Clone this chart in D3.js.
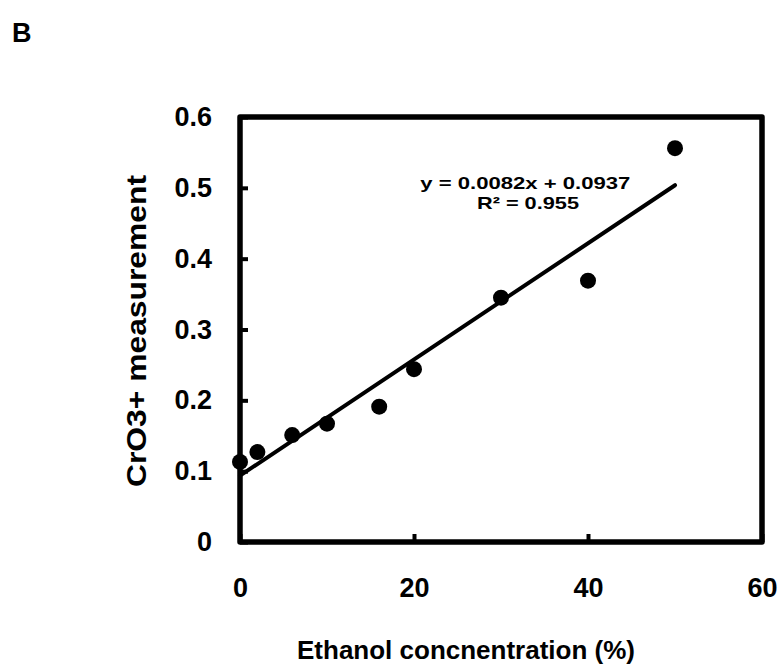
<!DOCTYPE html>
<html>
<head>
<meta charset="utf-8">
<script src="https://cdn.jsdelivr.net/npm/d3@7"></script>
<style>
    body { margin: 0; background: #fff; }
    text { font-family: "Liberation Sans", Arial, sans-serif; font-weight: bold; fill: #000; }
</style>
</head>
<body>
<div id="chart"></div>
<script>
// data
const ethanol = [0, 2, 6, 10, 16, 20, 30, 40, 50]
const cro3 = [0.113, 0.127, 0.151, 0.167, 0.191, 0.244, 0.345, 0.369, 0.556]
const xTicks = [0, 20, 40, 60]
const yTicks = [0, 0.1, 0.2, 0.3, 0.4, 0.5, 0.6]
const slope = 0.0082, intercept = 0.0937
const eqLabel = "y = 0.0082x + 0.0937"
const r2Label = "R² = 0.955"

const W = 782, H = 666
const margin = { top: 117, right: 20, bottom: 124, left: 240 }
const width = 762 - margin.left
const height = 542 - margin.top

const svg = d3.select("#chart")
    .append("svg")
    .attr("width", W)
    .attr("height", H)

svg.append("text")
    .attr("x", 12)
    .attr("y", 42)
    .style("font-size", "27px")
    .text("B")

const g = svg.append("g")
    .attr("transform", "translate(" + margin.left + "," + margin.top + ")")

const x = d3.scaleLinear().domain([0, 60]).range([0, width])
const y = d3.scaleLinear().domain([0, 0.6]).range([height, 0])

// frame
g.append("rect")
    .attr("x", 0).attr("y", 0)
    .attr("width", width).attr("height", height)
    .attr("fill", "none")
    .attr("stroke", "#000")
    .attr("stroke-width", 5.5)
    .attr("stroke-linejoin", "round")

// inner ticks
const xAxis = g.append("g")
    .attr("transform", `translate(0, ${height})`)
    .call(d3.axisBottom(x).tickValues(xTicks).tickSizeInner(-8).tickSizeOuter(0).tickPadding(36))
const yAxis = g.append("g")
    .call(d3.axisLeft(y).tickValues(yTicks).tickSizeInner(-8).tickSizeOuter(0).tickPadding(28)
        .tickFormat(d => d === 0 ? "0" : d3.format(".1f")(d)))

;[xAxis, yAxis].forEach(a => {
    a.select(".domain").remove()
    a.selectAll("line").attr("stroke", "#000").attr("stroke-width", 4)
    a.selectAll("text")
        .style("font-family", "'Liberation Sans', Arial, sans-serif")
        .style("font-weight", "bold")
        .style("font-size", "27px")
})

// trend line
g.append("line")
    .attr("x1", x(0)).attr("y1", y(intercept))
    .attr("x2", x(50)).attr("y2", y(slope * 50 + intercept))
    .attr("stroke", "#000")
    .attr("stroke-width", 4)
    .attr("stroke-linecap", "round")

// points
g.selectAll("circle")
    .data(ethanol)
    .enter()
    .append("circle")
    .attr("cx", (d) => x(d))
    .attr("cy", (d, i) => y(cro3[i]))
    .attr("r", 8)
    .attr("fill", "#000")

// equation
g.append("text")
    .attr("x", x(32.8))
    .attr("y", 72)
    .attr("text-anchor", "middle")
    .attr("textLength", 210)
    .attr("lengthAdjust", "spacingAndGlyphs")
    .style("font-size", "17px")
    .text(eqLabel)
g.append("text")
    .attr("x", x(33.1))
    .attr("y", 92)
    .attr("text-anchor", "middle")
    .attr("textLength", 102)
    .attr("lengthAdjust", "spacingAndGlyphs")
    .style("font-size", "17px")
    .text(r2Label)

// axis titles
svg.append("text")
    .attr("x", 466)
    .attr("y", 659)
    .attr("text-anchor", "middle")
    .style("font-size", "26px")
    .text("Ethanol concnentration (%)")
svg.append("text")
    .attr("transform", "translate(146, 331) rotate(-90)")
    .attr("text-anchor", "middle")
    .attr("textLength", 312)
    .attr("lengthAdjust", "spacingAndGlyphs")
    .style("font-size", "28px")
    .text("CrO3+ measurement")
</script>
</body>
</html>
